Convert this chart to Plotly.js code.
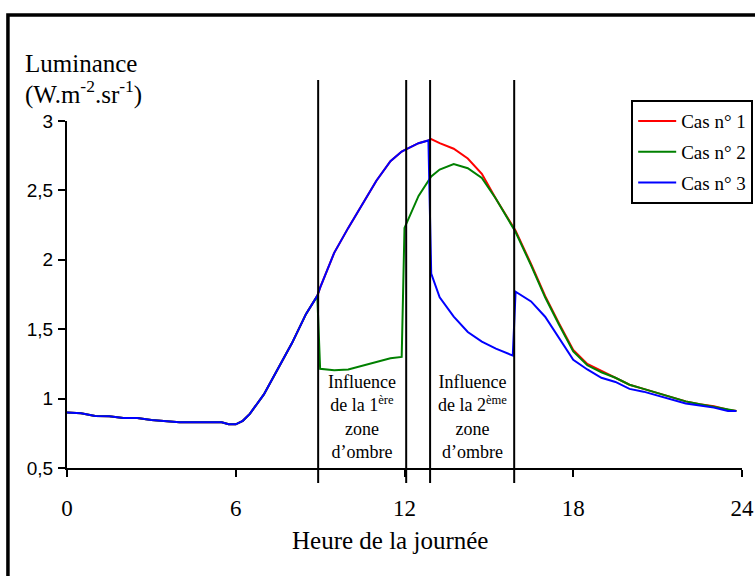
<!DOCTYPE html>
<html>
<head>
<meta charset="utf-8">
<script src="https://cdn.plot.ly/plotly-3.0.1.min.js"></script>
<style>html,body{margin:0;padding:0;background:#fff;}#chart{width:755px;height:576px;}</style>
</head>
<body>
<div id="chart"></div>
<script>
const hours = [0,0.5,1,1.5,2,2.5,3,3.5,4,4.5,5,5.5,5.75,6,6.25,6.5,7,7.5,8,8.5,8.9,9.0,9.5,10,10.5,11,11.5,11.9,12.0,12.5,12.85,12.95,13.25,13.75,14.25,14.75,15.25,15.85,15.95,16.5,17,17.5,18,18.5,19,19.5,20,20.5,21,21.5,22,22.5,23,23.5,23.8];

const cas1 = [0.90,0.895,0.875,0.872,0.86,0.86,0.845,0.835,0.83,0.83,0.83,0.83,0.815,0.815,0.84,0.89,1.03,1.21,1.40,1.61,1.74,1.80,2.05,2.23,2.40,2.57,2.71,2.78,2.79,2.84,2.86,2.87,2.84,2.80,2.73,2.62,2.44,2.24,2.21,1.97,1.74,1.54,1.35,1.25,1.20,1.15,1.10,1.07,1.04,1.01,0.98,0.96,0.945,0.92,0.91];

const cas2 = [0.90,0.895,0.875,0.872,0.86,0.86,0.845,0.835,0.83,0.83,0.83,0.83,0.815,0.815,0.84,0.89,1.03,1.21,1.40,1.61,1.74,1.215,1.205,1.21,1.235,1.26,1.29,1.30,2.23,2.46,2.57,2.60,2.65,2.69,2.66,2.59,2.44,2.24,2.20,1.96,1.73,1.53,1.34,1.24,1.19,1.15,1.10,1.07,1.04,1.01,0.98,0.96,0.94,0.92,0.91];

const cas3 = [0.90,0.895,0.875,0.872,0.86,0.86,0.845,0.835,0.83,0.83,0.83,0.83,0.815,0.815,0.84,0.89,1.03,1.21,1.40,1.61,1.74,1.80,2.05,2.23,2.40,2.57,2.71,2.78,2.79,2.84,2.86,1.90,1.73,1.59,1.48,1.41,1.36,1.31,1.77,1.70,1.59,1.43,1.28,1.21,1.15,1.12,1.07,1.05,1.02,0.99,0.965,0.95,0.935,0.91,0.91];

const seriesNames = ["Cas n° 1","Cas n° 2","Cas n° 3"];
const seriesColors = ["#FF0000","#008000","#0000FF"];
const zoneLines = [8.93, 12.06, 12.91, 15.9];
const xTicks = [0,6,12,18,24];
const yTicks = [0.5,1,1.5,2,2.5,3];
const zoneLabels = [
  {x: 10.5, text: "Influence<br>de la 1<sup>ère</sup><br>zone<br>d’ombre"},
  {x: 14.41, text: "Influence<br>de la 2<sup>ème</sup><br>zone<br>d’ombre"}
];

const serif = "'Liberation Serif', 'Times New Roman', serif";
const sans = "'Liberation Sans', Arial, sans-serif";

const allSeries = [cas1, cas2, cas3];
const traces = allSeries.map((ys, i) => ({
  x: hours, y: ys, type: "scatter", mode: "lines",
  name: seriesNames[i], legendgroup: "g" + i,
  line: {color: seriesColors[i], width: 2}
}));

const shapes = zoneLines.map(h => ({
  type: "line", xref: "x", yref: "paper", x0: h, x1: h, y0: -0.043, y1: 1.118,
  line: {color: "#000", width: 2}
}));
shapes.push({
  type: "rect", xref: "paper", yref: "paper",
  x0: -0.0875, x1: 1.2, y0: -0.6, y1: 1.3055,
  line: {color: "#000", width: 3.5}
});

const annotations = zoneLabels.map(z => ({
  x: z.x, y: 0.867, xref: "x", yref: "y", text: z.text, showarrow: false,
  xanchor: "center", yanchor: "middle", align: "center",
  font: {family: serif, size: 18, color: "#000"}
}));
annotations.push({
  x: -0.0652, y: 1.167, xref: "paper", yref: "paper", text: "Luminance",
  showarrow: false, xanchor: "left", yanchor: "middle",
  font: {family: serif, size: 25, color: "#000"}
});
annotations.push({
  x: -0.0652, y: 1.081, xref: "paper", yref: "paper", text: "(W.m<sup>-2</sup>.sr<sup>-1</sup>)",
  showarrow: false, xanchor: "left", yanchor: "middle",
  font: {family: serif, size: 25, color: "#000"}
});
annotations.push({
  x: 0.478, y: -0.2075, xref: "paper", yref: "paper", text: "Heure de la journée",
  showarrow: false, xanchor: "center", yanchor: "middle",
  font: {family: serif, size: 25, color: "#000"}
});

const layout = {
  width: 755, height: 576,
  margin: {l: 67, r: 13, t: 121, b: 108, autoexpand: false},
  paper_bgcolor: "#fff", plot_bgcolor: "#fff",
  separators: ", ",
  showlegend: true,
  legend: {
    xref: "container", yref: "container",
    x: 0.836, y: 0.826, xanchor: "left", yanchor: "top",
    bordercolor: "#000", borderwidth: 2, bgcolor: "#fff",
    traceorder: "grouped", tracegroupgap: 3, itemwidth: 38,
    font: {family: serif, size: 19, color: "#000"}
  },
  xaxis: {
    range: [0, 24], tickvals: xTicks, ticktext: xTicks.map(String),
    showgrid: false, zeroline: false, showline: true, linecolor: "#000", linewidth: 2,
    ticks: "outside", ticklen: 7, tickwidth: 2, tickcolor: "#000",
    ticklabelstandoff: 11, automargin: false,
    tickfont: {family: serif, size: 23, color: "#000"}
  },
  yaxis: {
    range: [0.5, 3], tickvals: yTicks,
    showgrid: false, zeroline: false, showline: true, linecolor: "#000", linewidth: 2,
    ticks: "outside", ticklen: 7, tickwidth: 2, tickcolor: "#000",
    ticklabelstandoff: 1, automargin: false,
    tickfont: {family: sans, size: 19, color: "#000"}
  },
  shapes: shapes,
  annotations: annotations
};

Plotly.newPlot("chart", traces, layout, {displayModeBar: false, staticPlot: true});
</script>
</body>
</html>
